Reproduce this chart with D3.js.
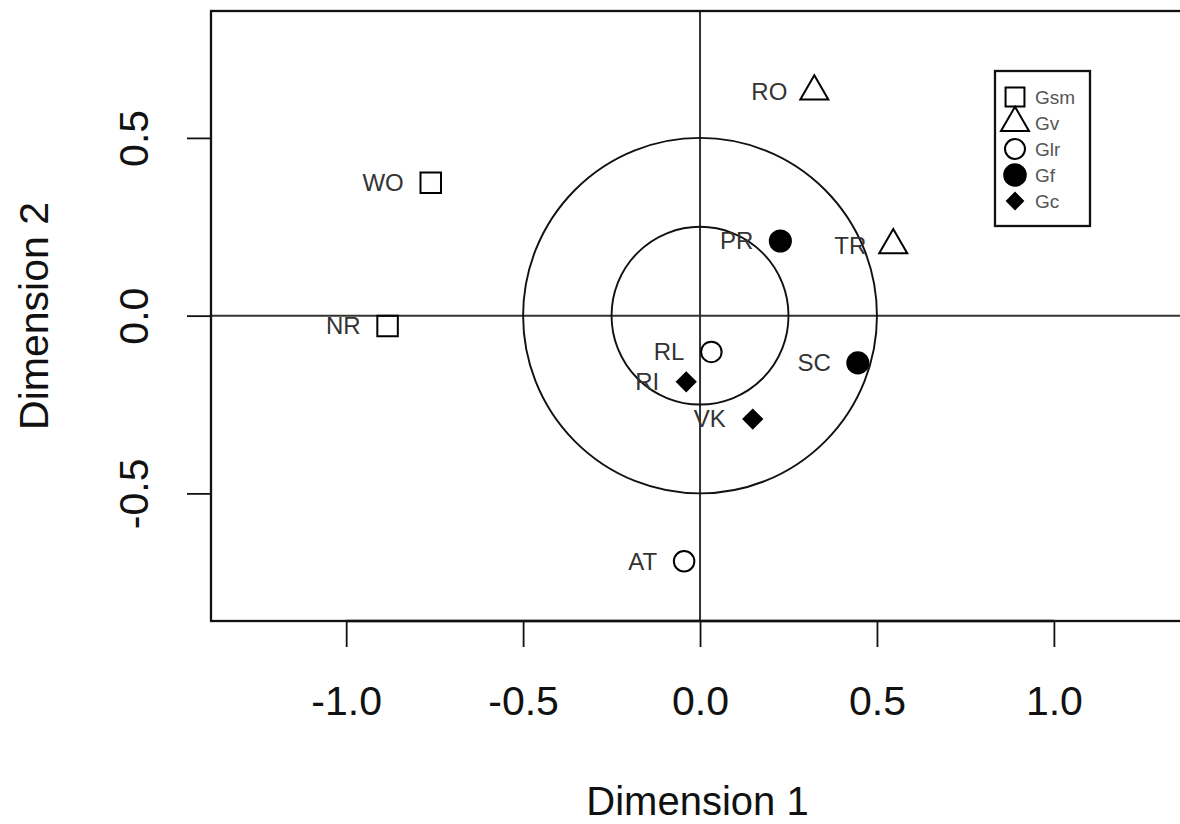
<!DOCTYPE html>
<html>
<head>
<meta charset="utf-8">
<script src="https://cdn.jsdelivr.net/npm/d3@7"></script>
<style>
  body { margin: 0; background: #fff; }
  svg { display: block; font-family: "Liberation Sans", Arial, Helvetica, sans-serif; }
</style>
</head>
<body>
<div class="chart"></div>
<script>
// point data
const pointLabels = ['WO', 'NR', 'RO', 'TR', 'PR', 'SC', 'RL', 'AT', 'RI', 'VK'];
const pointGroups = ['Gsm', 'Gsm', 'Gv', 'Gv', 'Gf', 'Gf', 'Glr', 'Glr', 'Gc', 'Gc'];
const dim1 = [-0.761, -0.883, 0.323, 0.546, 0.227, 0.446, 0.032, -0.045, -0.039, 0.149];
const dim2 = [0.374, -0.029, 0.631, 0.198, 0.210, -0.133, -0.102, -0.691, -0.186, -0.291];

const legendGroups = ['Gsm', 'Gv', 'Glr', 'Gf', 'Gc'];
const circleRadii = [0.25, 0.5];
const xTicks = [-1, -0.5, 0, 0.5, 1];
const yTicks = [-0.5, 0, 0.5];

const width = 1180, height = 824;
const plot = {left: 211, right: 1188, top: 11, bottom: 621};

function symbolFor(group) {
  let shapes = {
    'Gsm': {type: d3.symbolSquare, size: 420, fill: 'none', rotate: 0},
    'Gv': {type: d3.symbolTriangle, size: 340, fill: 'none', rotate: 0},
    'Glr': {type: d3.symbolCircle, size: 330, fill: 'none', rotate: 0},
    'Gf': {type: d3.symbolCircle, size: 350, fill: '#000', rotate: 0},
    'Gc': {type: d3.symbolSquare, size: 170, fill: '#000', rotate: 45}
  };
  return shapes[group];
}

function legendSymbolFor(group) {
  let s = symbolFor(group);
  let scaleDown = {'Gsm': 0.85, 'Gv': 1, 'Glr': 0.95, 'Gf': 1.05, 'Gc': 0.75};
  return {...s, size: s.size * scaleDown[group]};
}

function drawChart() {
  let svg = d3.select('.chart').append('svg')
    .attr('width', width)
    .attr('height', height);

  let x = d3.scaleLinear().domain([-1.382, 1.379]).range([plot.left, plot.right]);
  let y = d3.scaleLinear().domain([-0.859, 0.857]).range([plot.bottom, plot.top]);

  // axes lines through origin
  svg.append('line')
    .attr('x1', plot.left).attr('x2', plot.right)
    .attr('y1', y(0)).attr('y2', y(0))
    .attr('stroke', '#333').attr('stroke-width', 2);
  svg.append('line')
    .attr('x1', x(0)).attr('x2', x(0))
    .attr('y1', plot.top).attr('y2', plot.bottom)
    .attr('stroke', '#333').attr('stroke-width', 2);

  // circles
  svg.selectAll('.ring').data(circleRadii).enter()
    .append('ellipse')
    .attr('class', 'ring')
    .attr('cx', x(0)).attr('cy', y(0))
    .attr('rx', r => x(r) - x(0))
    .attr('ry', r => y(0) - y(r))
    .attr('fill', 'none')
    .attr('stroke', '#111')
    .attr('stroke-width', 1.9);

  // plot box
  svg.append('rect')
    .attr('x', plot.left).attr('y', plot.top)
    .attr('width', plot.right - plot.left)
    .attr('height', plot.bottom - plot.top)
    .attr('fill', 'none')
    .attr('stroke', '#111')
    .attr('stroke-width', 2.3);

  // x axis
  let xAxis = d3.axisBottom(x).tickValues(xTicks).tickSize(26).tickPadding(20)
    .tickFormat(d => d.toFixed(1));
  let gx = svg.append('g').attr('transform', `translate(0,${plot.bottom})`).call(xAxis);
  gx.select('.domain').remove();
  gx.append('line')
    .attr('x1', x(-1)).attr('x2', x(1))
    .attr('y1', 0).attr('y2', 0)
    .attr('stroke', '#111').attr('stroke-width', 2.6);
  gx.selectAll('.tick line').attr('stroke', '#111').attr('stroke-width', 1.8);
  gx.selectAll('.tick text')
    .attr('font-size', 41)
    .attr('font-family', '"Liberation Sans", Arial, sans-serif')
    .attr('fill', '#111')
    .attr('dy', null)
    .attr('y', 94);

  // y axis
  let yAxis = d3.axisLeft(y).tickValues(yTicks).tickSize(24)
    .tickFormat(d => d.toFixed(1));
  let gy = svg.append('g').attr('transform', `translate(${plot.left},0)`).call(yAxis);
  gy.select('.domain').remove();
  gy.selectAll('.tick line').attr('stroke', '#111').attr('stroke-width', 1.8);
  gy.selectAll('.tick text')
    .attr('font-size', 41)
    .attr('font-family', '"Liberation Sans", Arial, sans-serif')
    .attr('fill', '#111')
    .attr('text-anchor', 'middle')
    .attr('transform', 'rotate(-90)')
    .attr('dy', null)
    .attr('x', 0)
    .attr('y', -63);

  // axis titles
  svg.append('text')
    .attr('x', (plot.left + plot.right) / 2 - 2)
    .attr('y', 815)
    .attr('text-anchor', 'middle')
    .attr('font-size', 40)
    .attr('fill', '#111')
    .text('Dimension 1');
  svg.append('text')
    .attr('transform', `translate(48,${(plot.top + plot.bottom) / 2}) rotate(-90)`)
    .attr('text-anchor', 'middle')
    .attr('font-size', 41)
    .attr('fill', '#111')
    .text('Dimension 2');

  // points
  let points = pointLabels.map((label, i) => ({label, group: pointGroups[i], d1: dim1[i], d2: dim2[i]}));
  let pts = svg.selectAll('.pt').data(points).enter()
    .append('g')
    .attr('class', 'pt')
    .attr('transform', d => `translate(${x(d.d1)},${y(d.d2)})`);
  pts.append('path')
    .attr('d', d => d3.symbol(symbolFor(d.group).type, symbolFor(d.group).size)())
    .attr('transform', d => `rotate(${symbolFor(d.group).rotate})`)
    .attr('fill', d => symbolFor(d.group).fill)
    .attr('stroke', '#000')
    .attr('stroke-width', 2);
  pts.append('text')
    .attr('x', -27)
    .attr('dy', '0.35em')
    .attr('text-anchor', 'end')
    .attr('font-size', 24)
    .attr('fill', '#333')
    .text(d => d.label);

  // legend
  let legend = svg.append('g').attr('transform', 'translate(995,71)');
  legend.append('rect')
    .attr('width', 95).attr('height', 155)
    .attr('fill', '#fff')
    .attr('stroke', '#111')
    .attr('stroke-width', 2.3);
  let rows = legend.selectAll('.row').data(legendGroups).enter()
    .append('g')
    .attr('class', 'row')
    .attr('transform', (d, i) => `translate(20,${26 + i * 26})`);
  rows.append('path')
    .attr('d', d => d3.symbol(legendSymbolFor(d).type, legendSymbolFor(d).size)())
    .attr('transform', d => `rotate(${legendSymbolFor(d).rotate})`)
    .attr('fill', d => legendSymbolFor(d).fill)
    .attr('stroke', '#000')
    .attr('stroke-width', 2);
  rows.append('text')
    .attr('x', 20)
    .attr('dy', '0.35em')
    .attr('font-size', 19)
    .attr('fill', '#555')
    .text(d => d);
}

drawChart();
</script>
</body>
</html>
